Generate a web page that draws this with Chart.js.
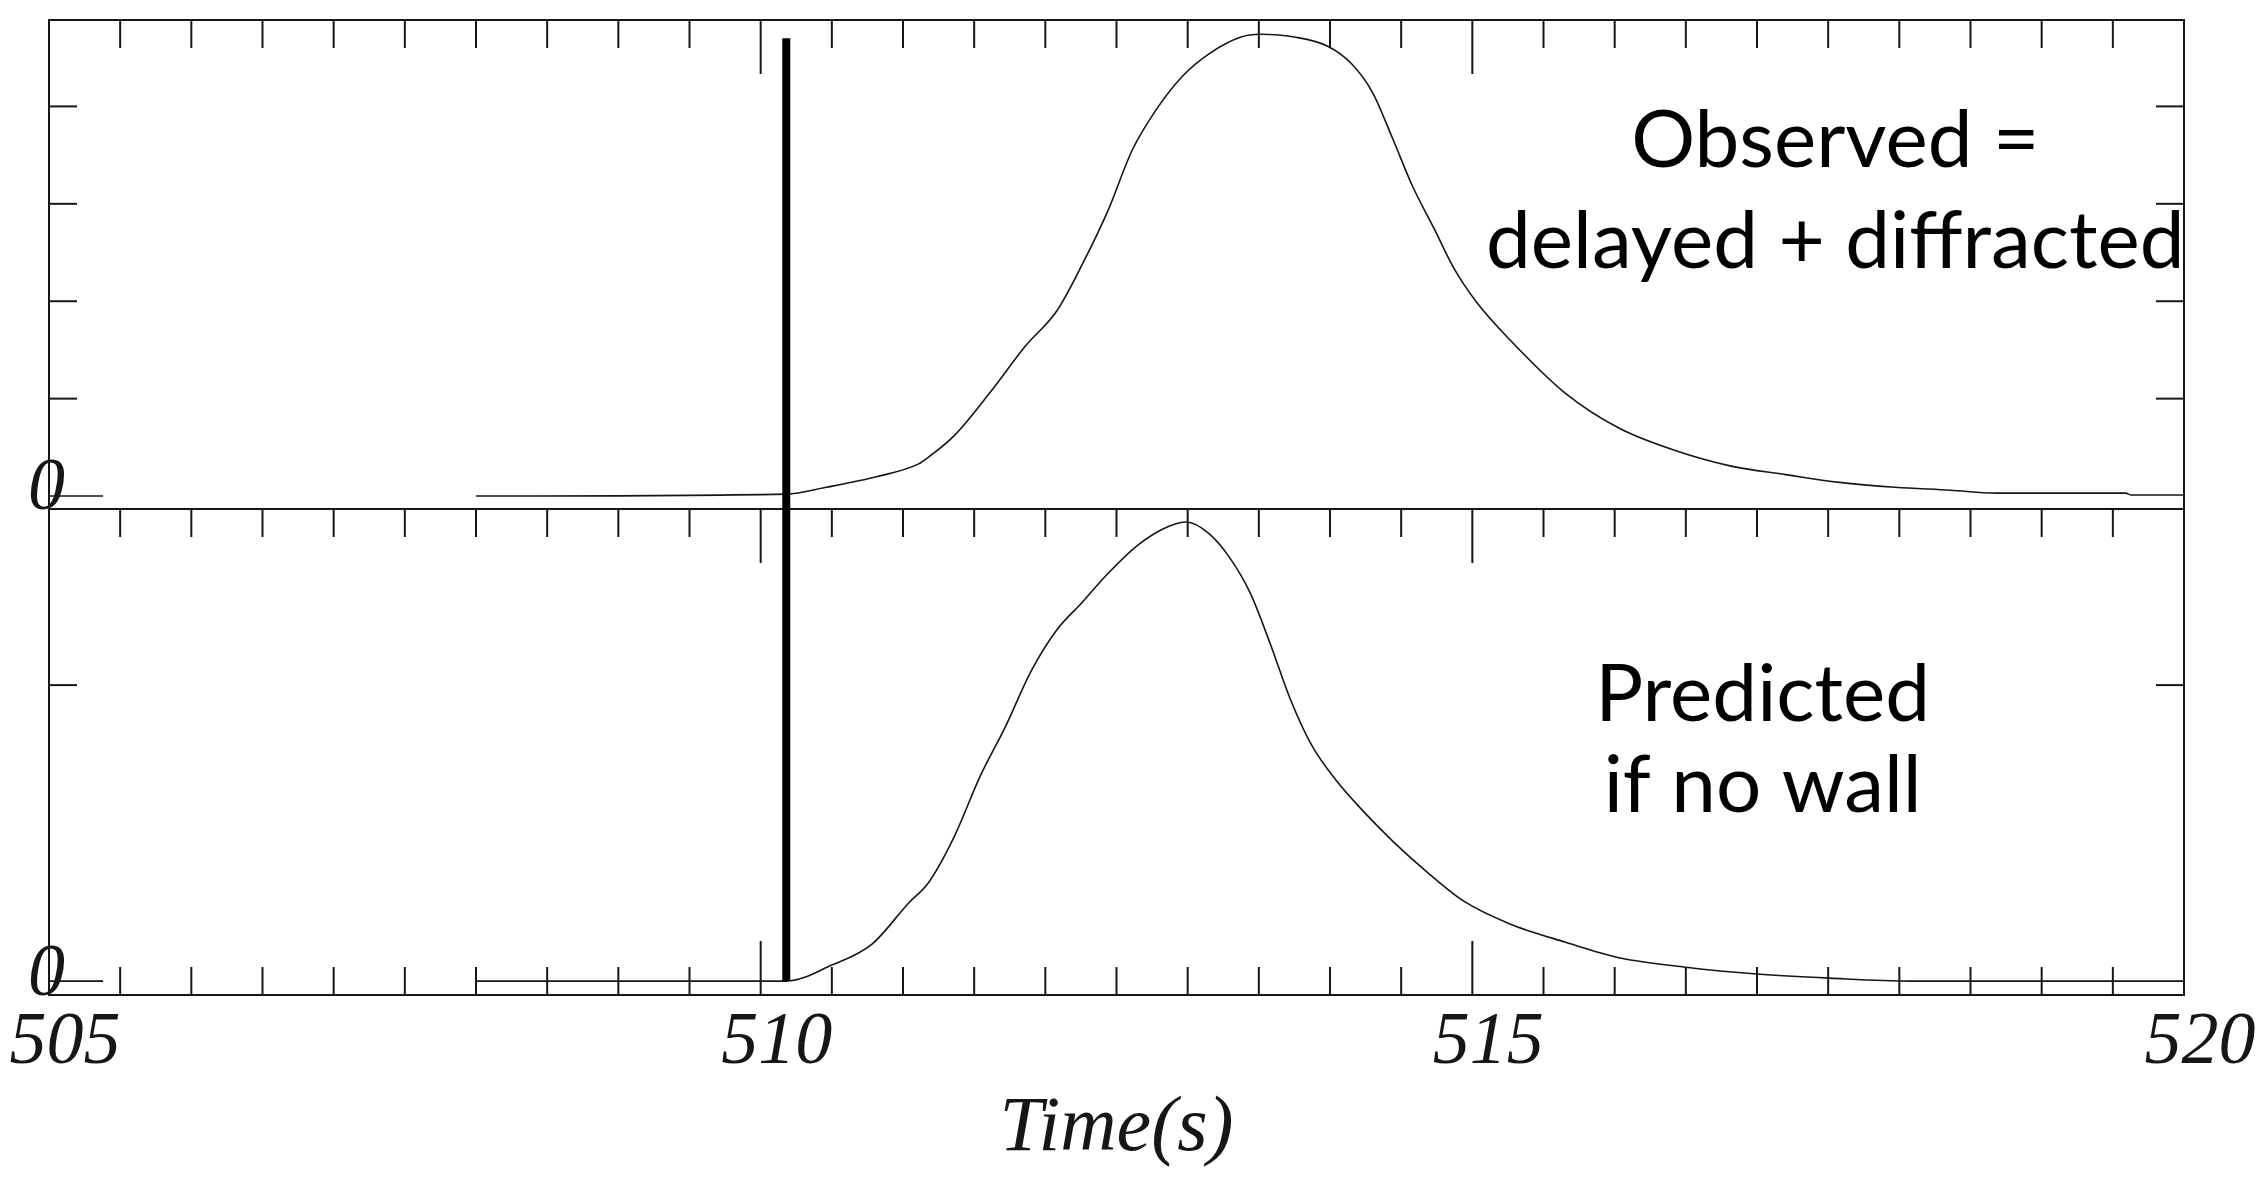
<!DOCTYPE html>
<html>
<head>
<meta charset="utf-8">
<title>Observed vs predicted arrival</title>
<script src="https://cdn.jsdelivr.net/npm/chart.js@4.4.1/dist/chart.umd.min.js"></script>
<style>
  html, body { margin: 0; padding: 0; background: #fff; }
</style>
</head>
<body>
<canvas id="trace" width="2262" height="1180"></canvas>
<script>
"use strict";

// ── Traces (time in s, amplitude in y-tick units) ─────────────────────────
const observedTime = [505.0, 505.38, 506.7, 508.0, 510.18, 510.46, 510.82, 511.11, 511.18,
  511.36, 511.61, 511.86, 512.08, 512.26, 512.44, 512.61, 512.79, 512.97, 513.15, 513.37,
  513.51, 513.76, 513.98, 514.15, 514.30, 514.44, 514.58, 514.73, 514.87, 515.03, 515.26,
  515.65, 516.04, 516.42, 516.81, 517.20, 517.58, 517.97, 518.36, 518.68, 519.59, 519.63, 520.0];
const observedAmp = [0, 0, null, 0, 0.02, 0.09, 0.20, 0.33, 0.40,
  0.62, 1.06, 1.54, 1.90, 2.38, 2.93, 3.55, 3.99, 4.32, 4.54, 4.71,
  4.74, 4.71, 4.62, 4.44, 4.14, 3.67, 3.18, 2.75, 2.34, 1.99, 1.61,
  1.06, 0.69, 0.47, 0.31, 0.22, 0.14, 0.09, 0.06, 0.03, 0.03, 0.01, 0.01];

const predictedTime = [505.0, 505.38, 506.7, 508.0, 510.18, 510.50, 510.78, 511.04, 511.18,
  511.36, 511.54, 511.72, 511.90, 512.08, 512.26, 512.43, 512.65, 512.86, 512.99, 513.15,
  513.29, 513.44, 513.58, 513.72, 513.87, 514.05, 514.22, 514.44, 514.69, 514.94, 515.26,
  515.65, 516.04, 516.50, 517.00, 517.51, 518.08, 520.0];
const predictedAmp = [0, 0, null, 0, 0, 0.054, 0.124, 0.264, 0.333,
  0.488, 0.690, 0.860, 1.047, 1.186, 1.280, 1.372, 1.473, 1.535, 1.551, 1.512,
  1.434, 1.311, 1.140, 0.954, 0.798, 0.674, 0.581, 0.473, 0.365, 0.270, 0.194,
  0.132, 0.078, 0.047, 0.024, 0.010, 0, 0];

// ── Axes ──────────────────────────────────────────────────────────────────
const timeRange    = [505, 520];
const timeLabels   = [505, 510, 515, 520];   // labelled (long) ticks
const timeMinorSec = 0.5;
const topRange     = [-0.133, 4.887];
const topTicks     = [1, 2, 3, 4];
const botRange     = [-0.047, 1.595];
const botTicks     = [1];

// onset marker and panel captions
const onsetTime = 510.18;
const onsetTop  = 4.70;
const captions = [
  { axis: "yTop", t: 517.55, y: 3.38, text: "Observed =" },
  { axis: "yTop", t: 517.55, y: 2.34, text: "delayed + diffracted" },
  { axis: "yBot", t: 517.04, y: 0.88, text: "Predicted" },
  { axis: "yBot", t: 517.04, y: 0.57, text: "if no wall" },
];

const INK       = "#161616";
const serif     = '"Liberation Serif", "DejaVu Serif", serif';
const axisFont  = { family: serif, style: "italic", size: 74 };
const titleFont = { family: serif, style: "italic", size: 78 };
const noteFont  = '80px Lato, "Open Sans", sans-serif';

const toPoints = (ts, ys) => ts.map((t, i) => ({ x: t, y: ys[i] }));

// ── Frame, inward ticks, onset bar, captions ──────────────────────────────
const framePlugin = {
  id: "frame",
  afterDraw(chart) {
    const { ctx, chartArea: a } = chart;
    const { x, yTop, yBot } = chart.scales;
    const seg = (x0, y0, x1, y1) => { ctx.beginPath(); ctx.moveTo(x0, y0); ctx.lineTo(x1, y1); ctx.stroke(); };

    ctx.save();
    ctx.strokeStyle = INK;
    ctx.lineWidth = 2;
    ctx.strokeRect(a.left, a.top, a.right - a.left, a.bottom - a.top);
    seg(a.left, yBot.top, a.right, yBot.top);

    // time ticks: on top of each panel (pointing down) and on the bottom axis (pointing up)
    const steps = Math.round((timeRange[1] - timeRange[0]) / timeMinorSec);
    for (let k = 1; k < steps; k++) {
      const t = timeRange[0] + k * timeMinorSec;
      const px = x.getPixelForValue(t);
      const len = timeLabels.includes(t) ? 54 : 28;
      seg(px, yTop.top, px, yTop.top + len);
      seg(px, yBot.top, px, yBot.top + len);
      seg(px, yBot.bottom, px, yBot.bottom - len);
    }

    // amplitude ticks on both sides
    const yTicks = (scale, vals) => vals.forEach(v => {
      const py = scale.getPixelForValue(v);
      seg(a.left, py, a.left + 28, py);
      seg(a.right - 28, py, a.right, py);
    });
    yTicks(yTop, topTicks);
    yTicks(yBot, botTicks);

    // onset bar through both panels
    ctx.strokeStyle = "#000";
    ctx.lineWidth = 8;
    const ox = x.getPixelForValue(onsetTime);
    seg(ox, yTop.getPixelForValue(onsetTop), ox, yBot.getPixelForValue(0));

    // captions
    ctx.fillStyle = "#000";
    ctx.font = noteFont;
    ctx.textAlign = "center";
    ctx.textBaseline = "alphabetic";
    captions.forEach(c => {
      ctx.fillText(c.text, x.getPixelForValue(c.t), chart.scales[c.axis].getPixelForValue(c.y));
    });
    ctx.restore();
  },
};

const flatAxis = (scale) => {
  scale.width = 0;
  scale.paddingTop = scale.paddingBottom = scale.paddingLeft = scale.paddingRight = 0;
};

// zero-width panel axis; mirror keeps its "0" label from being clipped away
const panelAxis = (range, weight, stackWeight) => ({
  type: "linear",
  position: "left",
  stack: "panels",
  stackWeight,
  weight,
  min: range[0],
  max: range[1],
  grid: { display: false, drawTicks: false },
  border: { display: false },
  ticks: {
    stepSize: 1,
    includeBounds: false,
    autoSkip: false,
    mirror: true,
    callback: v => (v === 0 ? "0" : ""),
    font: axisFont,
    color: INK,
    padding: -21,
    labelOffset: -6,
  },
  afterFit: flatAxis,
});

new Chart(document.getElementById("trace"), {
  type: "line",
  data: {
    datasets: [
      {
        label: "Observed",
        data: toPoints(observedTime, observedAmp),
        yAxisID: "yTop",
      },
      {
        label: "Predicted",
        data: toPoints(predictedTime, predictedAmp),
        yAxisID: "yBot",
      },
    ],
  },
  options: {
    responsive: false,
    animation: false,
    layout: { padding: { left: 49, right: 78, top: 20, bottom: 0 } },
    elements: {
      line: { borderColor: INK, borderWidth: 1.6, cubicInterpolationMode: "monotone", fill: false },
      point: { radius: 0 },
    },
    spanGaps: false,
    plugins: { legend: { display: false }, tooltip: { enabled: false } },
    scales: {
      x: {
        type: "linear",
        min: timeRange[0],
        max: timeRange[1],
        grid: { display: false, drawTicks: false },
        border: { display: false },
        ticks: {
          stepSize: 5,
          autoSkip: false,
          maxRotation: 0,
          callback: v => (timeLabels.includes(v) ? String(v) : ""),
          font: axisFont,
          color: INK,
          padding: 4,
          labelOffset: 16,
        },
        title: { display: true, text: "Time(s)", font: titleFont, color: INK, padding: { top: 0, bottom: 4 } },
        afterFit: (s) => { s.height = 185; s.paddingLeft = s.paddingRight = 0; },
      },
      yTop: panelAxis(topRange, 1, 489),
      yBot: panelAxis(botRange, 0, 486),
    },
  },
  plugins: [framePlugin],
});
</script>
</body>
</html>
